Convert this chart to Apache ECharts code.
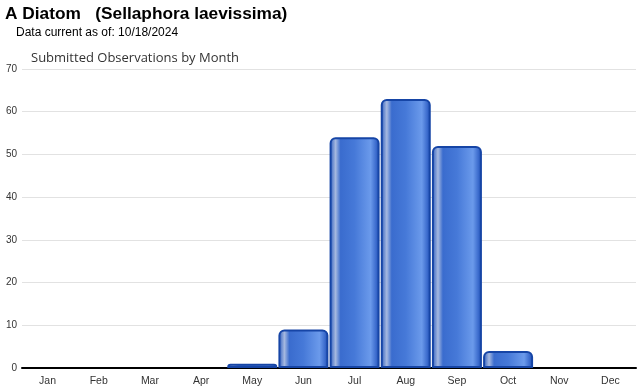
<!DOCTYPE html>
<html><head><meta charset="utf-8">
<script src="https://cdn.jsdelivr.net/npm/echarts@6/dist/echarts.min.js"></script>
<style>html,body{margin:0;padding:0;background:#fff}#c{width:640px;height:390px}</style>
</head><body><div id="c"></div>
<script>
const months = ['Jan','Feb','Mar','Apr','May','Jun','Jul','Aug','Sep','Oct','Nov','Dec'];
const observations = [0,0,0,0,1,9,54,63,52,4,0,0];
const yTicks = {min:0, max:70, interval:10};

const chart = echarts.init(document.getElementById('c'));
const grad = new echarts.graphic.LinearGradient(0,0,1,0,[
  {offset:0, color:'#2556bb'},
  {offset:0.12, color:'#a6b9e0'},
  {offset:0.22, color:'#3a6cce'},
  {offset:0.5, color:'#4679d8'},
  {offset:0.82, color:'#6b9aeb'},
  {offset:0.93, color:'#3b6bcd'},
  {offset:1, color:'#1a48ab'}
]);
chart.setOption({
  animation:false,
  title:[
    {text:'A Diatom   (Sellaphora laevissima)', left:5, top:6, padding:0,
     textStyle:{fontFamily:'Liberation Sans, Arial', fontSize:17.3, fontWeight:'bold', color:'#000'}},
    {text:'Data current as of: 10/18/2024', left:16, top:27, padding:0,
     textStyle:{fontFamily:'Liberation Sans, Arial', fontSize:12, fontWeight:'normal', color:'#000'}},
    {text:'Submitted Observations by Month', left:31, top:52, padding:0,
     textStyle:{fontFamily:'Open Sans, Liberation Sans, Arial', fontSize:13, fontWeight:'normal', color:'#333'}}
  ],
  grid:{left:22, right:4, top:69, bottom:22, containLabel:false},
  xAxis:{
    type:'category', data:months,
    axisLine:{lineStyle:{color:'#000', width:2}},
    axisTick:{alignWithLabel:true, length:4, lineStyle:{color:'#ccc'}},
    axisLabel:{fontFamily:'Liberation Sans, Arial', fontSize:10.5, color:'#333', margin:8}
  },
  yAxis:{
    type:'value', min:yTicks.min, max:yTicks.max, interval:yTicks.interval,
    axisLine:{show:false}, axisTick:{show:false},
    splitLine:{lineStyle:{color:'#e2e2e2'}},
    axisLabel:{fontFamily:'Liberation Sans, Arial', fontSize:10, color:'#333', margin:5}
  },
  series:[{
    type:'bar', data:observations.map(v => v === 0 ? '-' : v), barWidth:50,
    itemStyle:{color:grad, borderColor:'#1645a6', borderWidth:2, borderRadius:[5,5,0,0]}
  }]
});
</script></body></html>
